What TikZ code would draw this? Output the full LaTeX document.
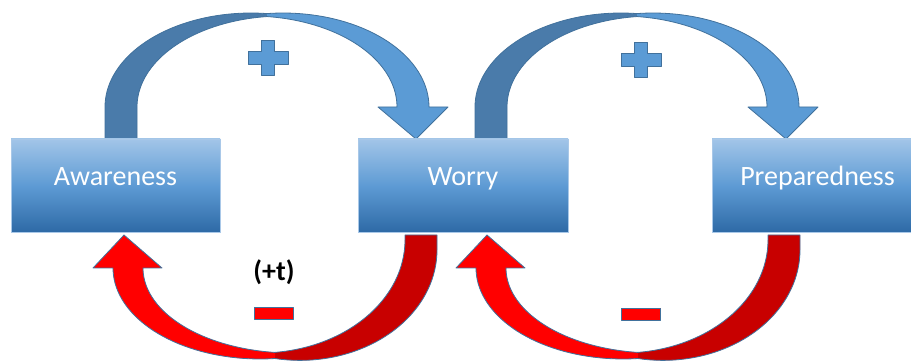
\documentclass[tikz,border=0pt]{standalone}
\usepackage{fontspec}
\setmainfont{Carlito}
\definecolor{bluefront}{HTML}{5B9BD5}
\definecolor{blueback}{HTML}{4A7BAA}
\definecolor{blueline}{HTML}{41719C}
\definecolor{redfront}{HTML}{FF0000}
\definecolor{redback}{HTML}{C80000}
\definecolor{boxtop}{HTML}{A2C5E8}
\definecolor{boxmid}{HTML}{5E9BD4}
\definecolor{boxbot}{HTML}{2E6AA6}
\definecolor{boxedge}{HTML}{A9C8E8}
\newcommand{\drawbluecurve}{%
  \filldraw[fill=blueback, outl]
    plot[domain=263.7:180, samples=40, variable=\t] ({283+146*cos(\t)},{107+91*sin(\t)})
    -- (137,139) -- (105,139) -- (105,107)
    -- plot[domain=180:276.3, samples=40, variable=\t] ({251+146*cos(\t)},{107+94*sin(\t)});
  \filldraw[fill=bluefront, outl]
    plot[domain=276.3:360, samples=40, variable=\t] ({251+146*cos(\t)},{107+91*sin(\t)})
    -- (378,107) -- (416,139) -- (448,107) -- (429,107)
    -- plot[domain=360:263.7, samples=40, variable=\t] ({283+146*cos(\t)},{107+94*sin(\t)});
}
\newcommand{\drawredcurve}{%
  \filldraw[fill=redback, outl]
    plot[domain=84.06:0, samples=40, variable=\t] ({260+145*cos(\t)},{240+113*sin(\t)})
    -- (405,235) -- (437,235) -- (437,250)
    -- plot[domain=0:100.5, samples=40, variable=\t] ({300+137*cos(\t)},{250+110.4*sin(\t)});
  \filldraw[fill=redfront, outl]
    plot[domain=84.1:180, samples=40, variable=\t] ({260+147*cos(\t)},{268+91*sin(\t)})
    -- (93,268) -- (124,235) -- (162,268) -- (143,268)
    -- plot[domain=180:96.55, samples=40, variable=\t] ({292+149*cos(\t)},{268+85*sin(\t)});
}
\newcommand{\drawplussign}{%
  \filldraw[fill=bluefront, outl]
    (-6.5,-17.5) -- (6.5,-17.5) -- (6.5,-6.5) -- (20,-6.5) -- (20,6.5) -- (6.5,6.5)
    -- (6.5,17.5) -- (-6.5,17.5) -- (-6.5,6.5) -- (-20,6.5) -- (-20,-6.5) -- (-6.5,-6.5) -- cycle;
}
\newcommand{\drawminussign}{%
  \filldraw[fill=redfront, outl] (-19.5,-6) rectangle (19.5,6);
}
\begin{document}
\begin{tikzpicture}[x=1pt,y=-1pt,
  outl/.style={draw=blueline, line width=0.8pt, line join=round},
  box/.style={rectangle, draw=boxedge, line width=0.8pt,
    top color=boxtop, bottom color=boxbot, middle color=boxmid,
    minimum height=93pt, inner sep=0pt, text=white,
    font=\fontsize{28}{34}\selectfont, text height=10pt, text depth=10pt},
  lbl/.style={font=\bfseries\fontsize{28}{34}\selectfont, anchor=base, inner sep=0pt}]
\useasboundingbox (0,0) rectangle (911,363);
\fill[white] (0,0) rectangle (911,363);
\begin{scope}
\clip (0,0) rectangle (911,363);
% arrows
\drawbluecurve
\begin{scope}[xshift=370pt]\drawbluecurve\end{scope}
\drawredcurve
\begin{scope}[xshift=363pt]\drawredcurve\end{scope}
% signs
\begin{scope}[shift={(268,58)}]\drawplussign\end{scope}
\begin{scope}[shift={(641,60)}]\drawplussign\end{scope}
\begin{scope}[shift={(273.5,313)}]\drawminussign\end{scope}
\begin{scope}[shift={(641,314)}]\drawminussign\end{scope}
% boxes
\node[box, minimum width=209pt] (aw) at (115.5,185.5) {Awareness};
\node[box, minimum width=210pt] (wo) at (463,185.5) {Worry};
\node[box, minimum width=211pt] (pr) at (817.5,185.5) {Preparedness};
\node[lbl] (tl) at (274,281) {(+t)};
\end{scope}
\end{tikzpicture}
\end{document}
